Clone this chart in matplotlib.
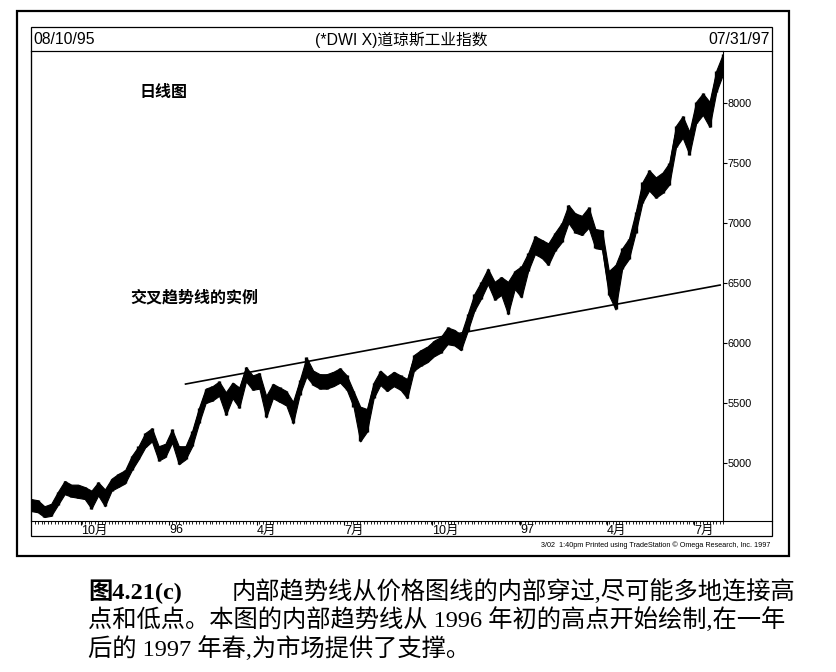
import numpy as np
import pandas as pd
import matplotlib
matplotlib.use('Agg')
import matplotlib.pyplot as plt
import matplotlib.dates as mdates
from matplotlib.patches import Rectangle
from matplotlib.lines import Line2D

plt.rcParams['font.family'] = ['Liberation Sans', 'Noto Sans CJK SC', 'DejaVu Sans']

# weekly bars (Dow Jones Industrials, 08/10/95 - 07/31/97)
week_dates = pd.date_range('1995-08-10', '1997-07-31', freq='7D')
week_close = [4650, 4642, 4592, 4608, 4708, 4792, 4775, 4767, 4750, 4717,
              4783, 4725, 4825, 4858, 4883, 5008, 5083, 5192, 5242, 5083,
              5108, 5225, 5083, 5083, 5208, 5400, 5567, 5583, 5625, 5525,
              5608, 5567, 5758, 5675, 5692, 5483, 5600, 5575, 5542, 5442,
              5633, 5792, 5717, 5683, 5683, 5700, 5733, 5675, 5542, 5400,
              5375, 5608, 5717, 5667, 5708, 5675, 5650, 5842, 5883, 5908,
              5958, 5992, 6067, 6050, 6008, 6175, 6342, 6442, 6567, 6442,
              6483, 6442, 6533, 6575, 6675, 6817, 6792, 6758, 6850, 6925,
              7075, 7008, 6983, 7042, 6875, 6858, 6500, 6567, 6708, 6792,
              7008, 7258, 7358, 7300, 7342, 7417, 7725, 7808, 7675, 7925,
              8000, 7925, 8192, 8342]
week_low = [4600, 4590, 4550, 4560, 4650, 4740, 4720, 4710, 4700, 4620,
            4730, 4640, 4770, 4800, 4830, 4940, 5030, 5130, 5180, 5020,
            5050, 5170, 4990, 5030, 5140, 5330, 5500, 5520, 5560, 5400,
            5540, 5460, 5680, 5610, 5620, 5380, 5540, 5510, 5480, 5330,
            5570, 5720, 5650, 5620, 5620, 5640, 5670, 5610, 5470, 5180,
            5260, 5540, 5650, 5600, 5640, 5610, 5540, 5770, 5810, 5840,
            5890, 5920, 5990, 5980, 5940, 6100, 6270, 6370, 6490, 6360,
            6400, 6240, 6450, 6380, 6600, 6740, 6710, 6650, 6770, 6840,
            7000, 6920, 6900, 6960, 6790, 6780, 6400, 6280, 6620, 6700,
            6920, 7170, 7270, 7210, 7250, 7320, 7630, 7710, 7570, 7830,
            7900, 7800, 8090, 8240]
week_high = [4700, 4690, 4640, 4660, 4760, 4850, 4820, 4820, 4800, 4770,
             4840, 4780, 4870, 4910, 4940, 5060, 5140, 5250, 5290, 5140,
             5160, 5280, 5140, 5140, 5270, 5460, 5620, 5640, 5680, 5590,
             5670, 5630, 5800, 5730, 5750, 5560, 5660, 5630, 5600, 5510,
             5690, 5880, 5770, 5740, 5740, 5760, 5790, 5730, 5600, 5470,
             5450, 5670, 5770, 5720, 5760, 5730, 5700, 5900, 5940, 5970,
             6020, 6050, 6130, 6110, 6070, 6240, 6410, 6510, 6620, 6510,
             6550, 6510, 6600, 6640, 6750, 6890, 6860, 6830, 6920, 7000,
             7150, 7080, 7060, 7130, 6950, 6940, 6600, 6650, 6790, 6870,
             7090, 7340, 7440, 7380, 7420, 7500, 7810, 7890, 7760, 8010,
             8080, 8010, 8270, 8410]

# trend line drawn on the chart
trend_dates = pd.to_datetime(['1996-01-18', '1997-07-28'])
trend_prices = [5658, 6483]

price_ticks = [5000, 5500, 6000, 6500, 7000, 7500, 8000]
month_ticks = pd.to_datetime(['1995-10-01', '1996-01-01', '1996-04-01', '1996-07-01',
                              '1996-10-01', '1997-01-01', '1997-04-01', '1997-07-01'])
month_labels = ['10月', '96', '4月', '7月', '10月', '97', '4月', '7月']

W, H = 836, 672
fx = lambda x: x / W
fy = lambda y: 1 - y / H

fig = plt.figure(figsize=(W / 100, H / 100), dpi=100)
ax = fig.add_axes([fx(31), fy(521), (723 - 31) / W, (521 - 51) / H])

ax.fill_between(week_dates, week_low, week_high, color='black', lw=0.8, ec='black')
ax.vlines(week_dates, week_low, week_high, color='black', lw=2.4)
ax.plot(week_dates, week_close, color='black', lw=2.2)
ax.plot(trend_dates, trend_prices, color='black', lw=1.2)

ax.set_xlim(pd.Timestamp('1995-08-10'), pd.Timestamp('1997-07-31'))
ax.set_ylim(4517, 8433)

ax.yaxis.tick_right()
ax.set_yticks(price_ticks)
ax.tick_params(axis='y', direction='out', length=3, width=0.8, pad=0.5, labelsize=7.8)

ax.set_xticks(month_ticks)
ax.set_xticklabels(month_labels, ha='left', fontsize=9,
                   family=['Liberation Sans Narrow', 'Liberation Sans', 'Noto Sans CJK SC'])
ax.xaxis.set_minor_locator(mdates.WeekdayLocator(byweekday=(mdates.MO, mdates.TH)))
ax.tick_params(axis='x', which='major', direction='out', length=3, width=0.8, pad=-0.5)
ax.tick_params(axis='x', which='minor', direction='out', length=2, width=0.6)
for s in ax.spines.values():
    s.set_linewidth(0.8)

# frames and header
fig.patches.append(Rectangle((fx(31), fy(536)), (772 - 31) / W, (536 - 27) / H,
                             transform=fig.transFigure, fill=False, lw=0.9, ec='black'))
fig.patches.append(Rectangle((fx(17), fy(556)), (789 - 17) / W, (556 - 11) / H,
                             transform=fig.transFigure, fill=False, lw=1.6, ec='black'))
fig.lines.append(Line2D([fx(31), fx(772)], [fy(51), fy(51)], transform=fig.transFigure, color='black', lw=0.8))
fig.lines.append(Line2D([fx(723), fx(772)], [fy(521), fy(521)], transform=fig.transFigure, color='black', lw=0.8))

fig.text(fx(33), fy(40), '08/10/95', ha='left', va='center', fontsize=11.3)
fig.text(fx(770), fy(40), '07/31/97', ha='right', va='center', fontsize=11.3)
fig.text(fx(401), fy(40), '(*DWI X)道琼斯工业指数', ha='center', va='center', fontsize=11.3)

fig.text(fx(140), fy(92), '日线图', ha='left', va='center', fontsize=11.5,
         family=['Noto Sans CJK SC', 'DejaVu Sans'], weight='bold')
fig.text(fx(130), fy(297), '交叉趋势线的实例', ha='left', va='center', fontsize=11.5,
         family=['Noto Sans CJK SC', 'DejaVu Sans'], weight='bold')

fig.text(fx(770), fy(545), '3/02  1:40pm Printed using TradeStation \u00a9 Omega Research, Inc. 1997',
         ha='right', va='center', fontsize=5.2)

# caption under the chart
cap = ['Liberation Serif', 'Noto Sans CJK SC', 'DejaVu Sans']
fig.text(fx(88), fy(592), '图4.21(c)', ha='left', va='center', fontsize=17.5, family=cap, weight='bold')
fig.text(fx(232), fy(592), '内部趋势线从价格图线的内部穿过,尽可能多地连接高',
         ha='left', va='center', fontsize=17.5, family=cap)
fig.text(fx(88), fy(620), '点和低点。本图的内部趋势线从 1996 年初的高点开始绘制,在一年',
         ha='left', va='center', fontsize=17.5, family=cap)
fig.text(fx(88), fy(649), '后的 1997 年春,为市场提供了支撑。',
         ha='left', va='center', fontsize=17.5, family=cap)

fig.savefig('out.png', dpi=100)
